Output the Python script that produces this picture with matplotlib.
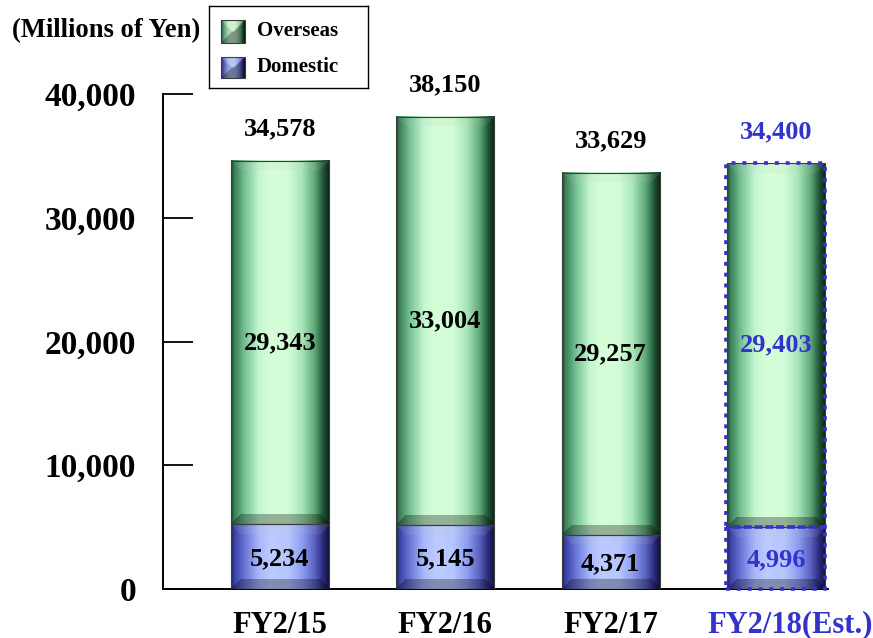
import numpy as np
import matplotlib
matplotlib.use("Agg")
import matplotlib.pyplot as plt
from matplotlib.colors import to_rgb
from matplotlib.transforms import ScaledTranslation

# ---------------- data ----------------
categories = ["FY2/15", "FY2/16", "FY2/17", "FY2/18(Est.)"]
domestic = [5234, 5145, 4371, 4996]
overseas = [29343, 33004, 29257, 29403]
totals = [34578, 38150, 33629, 34400]
is_estimate = [False, False, False, True]
series_names = ["Overseas", "Domestic"]
unit_label = "(Millions of Yen)"
yticks = [0, 10000, 20000, 30000, 40000]

EST_COLOR = "#3333cc"
plt.rcParams["font.family"] = ["Liberation Serif", "DejaVu Serif"]
plt.rcParams["font.weight"] = "bold"

GREEN_STOPS = [(0.00, "#1d4a32"), (0.03, "#3a7f58"), (0.14, "#78c496"),
               (0.28, "#c4f6cf"), (0.40, "#d6ffd9"), (0.58, "#d2fdd6"),
               (0.72, "#a8e6b8"), (0.85, "#5ea878"), (0.93, "#245a3c"),
               (1.00, "#0a2214")]
BLUE_STOPS = [(0.00, "#1e2266"), (0.03, "#3a40a4"), (0.14, "#6c78d8"),
              (0.28, "#a8b8fa"), (0.40, "#bccbff"), (0.58, "#b6c6ff"),
              (0.72, "#8e9ef0"), (0.85, "#5a62c0"), (0.93, "#2c2e80"),
              (1.00, "#10103a")]


def profile(stops, n):
    u = np.linspace(0, 1, n)
    pos = [s[0] for s in stops]
    cols = np.array([to_rgb(s[1]) for s in stops])
    return np.stack([np.interp(u, pos, cols[:, k]) for k in range(3)], axis=1)


def shade_array(stops, hpx, wpx, bevel=10, left_f=1.0, right_f=1.0,
                top_f=0.88, top_add=0.09, bot_f=0.7):
    hpx = max(int(round(hpx)), 2)
    wpx = max(int(round(wpx)), 2)
    base = profile(stops, wpx)
    img = np.tile(base[None, :, :], (hpx, 1, 1))
    yy, xx = np.mgrid[0:hpx, 0:wpx]
    dt = yy
    db = hpx - 1 - yy
    dl = xx
    dr = wpx - 1 - xx
    b = min(bevel, hpx / 2.0, wpx / 2.0)
    top = (dt < b) & (dt <= dl) & (dt <= dr)
    bot = (db < b) & (db <= dl) & (db <= dr) & ~top
    left = (dl < b) & ~top & ~bot & (dl <= dr)
    right = (dr < b) & ~top & ~bot & ~left
    img[top] = img[top] * top_f + top_add
    img[bot] = img[bot] * bot_f
    img[left] = img[left] * left_f
    img[right] = img[right] * right_f
    return np.clip(img, 0, 1)


fig = plt.figure(figsize=(8.73, 6.38), dpi=100)
ax = fig.add_axes([163 / 873, 49 / 638, 665 / 873, 495 / 638])
ax.set_xlim(-0.708, 3.315)
ax.set_ylim(0, 40000)

x = np.arange(len(categories))
width = 0.593

for i in range(len(categories)):
    segs = [(0, domestic[i], BLUE_STOPS), (domestic[i], domestic[i] + overseas[i], GREEN_STOPS)]
    for y0, y1, stops in segs:
        l, r = x[i] - width / 2, x[i] + width / 2
        p0 = ax.transData.transform((l, y0))
        p1 = ax.transData.transform((r, y1))
        img = shade_array(stops, abs(p1[1] - p0[1]), abs(p1[0] - p0[0]), bevel=10)
        ax.imshow(img, extent=[l, r, y0, y1], aspect="auto", origin="upper",
                  interpolation="bilinear", zorder=2)

ax.set_aspect("auto")
ax.set_xlim(-0.708, 3.315)
ax.set_ylim(0, 40000)

ax.bar(x, domestic, width, facecolor="none", edgecolor="#3c3c3c", linewidth=0.8, zorder=3)
ax.bar(x, overseas, width, bottom=domestic, facecolor="none", edgecolor="#3c3c3c",
       linewidth=0.8, zorder=3)

for i in range(len(categories)):
    col = EST_COLOR if is_estimate[i] else "black"
    if is_estimate[i]:
        for b, h in [(0, domestic[i]), (domestic[i], overseas[i])]:
            ax.bar(x[i], h, width * 1.01, bottom=b, facecolor="none", edgecolor=EST_COLOR,
                   linewidth=2.6, linestyle=(0, (1.1, 1.9)), zorder=4, clip_on=False)
    ax.annotate(f"{totals[i]:,}", (x[i], domestic[i] + overseas[i]), xytext=(0, 23),
                textcoords="offset points", ha="center", va="center",
                fontsize=19, fontweight="bold", color=col)
    ax.text(x[i], domestic[i] + overseas[i] / 2, f"{overseas[i]:,}", ha="center",
            va="center", fontsize=19, fontweight="bold", color=col, zorder=5)
    ax.text(x[i], domestic[i] / 2 - 150, f"{domestic[i]:,}", ha="center",
            va="center", fontsize=19, fontweight="bold", color=col, zorder=5)

ax.set_yticks(yticks)
ax.set_yticklabels([f"{v:,}" for v in yticks])
ax.tick_params(axis="y", direction="in", length=21.6, width=1.3, pad=19.5,
               labelsize=24)
ax.set_xticks(x)
ax.set_xticklabels(categories)
ax.tick_params(axis="x", length=0, pad=15.5, labelsize=22)
for lab, est in zip(ax.get_xticklabels(), is_estimate):
    lab.set_fontweight("bold")
    if est:
        lab.set_color(EST_COLOR)
        lab.set_transform(lab.get_transform() + ScaledTranslation(0.14, 0, fig.dpi_scale_trans))
for lab in ax.get_yticklabels():
    lab.set_fontweight("bold")
for s in ["top", "right"]:
    ax.spines[s].set_visible(False)
for s in ["left", "bottom"]:
    ax.spines[s].set_linewidth(1.4)
    ax.spines[s].set_zorder(1)

fig.text(12 / 873, 1 - 31 / 638, unit_label, ha="left", va="center",
         fontsize=19.2, fontweight="bold")

# ---------------- legend ----------------
lax = fig.add_axes([209 / 873, 1 - 88 / 638, 159 / 873, 82 / 638])
lax.set_xlim(0, 159)
lax.set_ylim(82, 0)
lax.set_xticks([])
lax.set_yticks([])
for s in lax.spines.values():
    s.set_linewidth(1.0)
for (name, stops, ytop, ybot) in [(series_names[0], GREEN_STOPS, 14, 37),
                                  (series_names[1], BLUE_STOPS, 51, 72)]:
    img = shade_array(stops, 46, 48, bevel=24, left_f=0.85, right_f=0.6,
                      top_f=0.8, top_add=0.15, bot_f=0.6)
    lax.imshow(img, extent=[12, 36, ybot, ytop], aspect="auto", origin="upper",
               interpolation="bilinear")
    lax.add_patch(plt.Rectangle((12, ytop), 24, ybot - ytop, fill=False,
                                edgecolor="#3c3c3c", linewidth=0.8))
    lax.text(48, (ytop + ybot) / 2, name, ha="left", va="center", fontsize=15,
             fontweight="bold")
lax.set_xlim(0, 159)
lax.set_ylim(82, 0)

fig.savefig("out.png", dpi=100)
